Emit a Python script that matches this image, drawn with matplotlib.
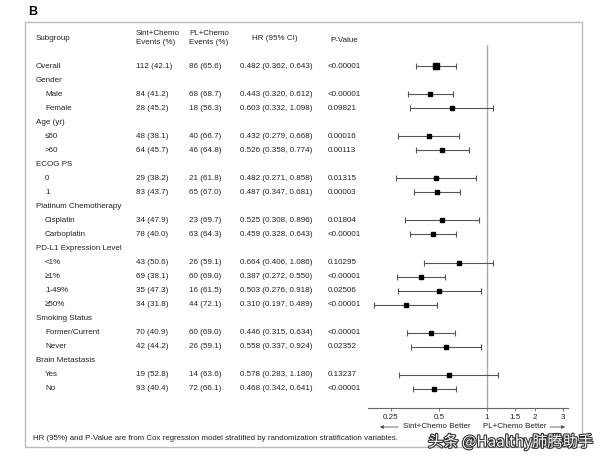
import numpy as np
import matplotlib
matplotlib.use("Agg")
import matplotlib.pyplot as plt
import matplotlib.patheffects as pe
from matplotlib.patches import Rectangle

plt.rcParams['font.family'] = ['Liberation Sans', 'DejaVu Sans']

# Dữ liệu bảng
labels = ["Overall", "Gender", "Male", "Female", "Age (yr)", "≤60", ">60",
          "ECOG PS", "0", "1", "Platinum Chemotherapy", "Cisplatin", "Carboplatin",
          "PD-L1 Expression Level", "<1%", "≥1%", "1-49%", "≥50%",
          "Smoking Status", "Former/Current", "Never",
          "Brain Metastasis", "Yes", "No"]
is_group = [False, True, False, False, True, False, False,
            True, False, False, True, False, False,
            True, False, False, False, False,
            True, False, False,
            True, False, False]
sint_ev = [112, None, 84, 28, None, 48, 64, None, 29, 83, None, 34, 78,
           None, 43, 69, 35, 34, None, 70, 42, None, 19, 93]
sint_pct = [42.1, None, 41.2, 45.2, None, 38.1, 45.7, None, 38.2, 43.7, None, 47.9, 40.0,
            None, 50.6, 38.1, 47.3, 31.8, None, 40.9, 44.2, None, 52.8, 40.4]
pl_ev = [86, None, 68, 18, None, 40, 46, None, 21, 65, None, 23, 63,
         None, 26, 60, 16, 44, None, 60, 26, None, 14, 72]
pl_pct = [65.6, None, 68.7, 56.3, None, 66.7, 64.8, None, 61.8, 67.0, None, 69.7, 64.3,
          None, 59.1, 69.0, 61.5, 72.1, None, 69.0, 59.1, None, 63.6, 66.1]
hr = [0.482, None, 0.443, 0.603, None, 0.432, 0.526, None, 0.482, 0.487, None, 0.525, 0.459,
      None, 0.664, 0.387, 0.503, 0.310, None, 0.446, 0.558, None, 0.578, 0.468]
lo = [0.362, None, 0.320, 0.332, None, 0.279, 0.358, None, 0.271, 0.347, None, 0.308, 0.328,
      None, 0.406, 0.272, 0.276, 0.197, None, 0.315, 0.337, None, 0.283, 0.342]
hi = [0.643, None, 0.612, 1.098, None, 0.668, 0.774, None, 0.858, 0.681, None, 0.896, 0.643,
      None, 1.086, 0.550, 0.918, 0.489, None, 0.634, 0.924, None, 1.180, 0.641]
pval = ["<0.00001", None, "<0.00001", "0.09821", None, "0.00016", "0.00113", None,
        "0.01315", "0.00003", None, "0.01804", "<0.00001", None,
        "0.10295", "<0.00001", "0.02506", "<0.00001", None,
        "<0.00001", "0.02352", None, "0.13237", "<0.00001"]
ticks = [0.25, 0.5, 1, 1.5, 2, 3]
tick_labels = ["0.25", "0.5", "1", "1.5", "2", "3"]

W, H = 612, 463
fig = plt.figure(figsize=(W / 100, H / 100), dpi=100)

# nền: toạ độ pixel
bg = fig.add_axes([0, 0, 1, 1])
bg.set_xlim(0, W)
bg.set_ylim(H, 0)
bg.axis("off")

y0, dy = 66, 14.04
n = len(labels)
fs = 5.8
tc = "#222222"

bg.text(28, 12, "B", fontsize=9, fontweight="bold", va="center", ha="left")
bg.add_patch(Rectangle((25, 22), 557, 425, fill=False, ec="#bbbbbb", lw=1))

# tiêu đề cột
bg.text(36, 38, "Subgroup", fontsize=fs, va="center", color=tc)
bg.text(136, 38, "Sint+Chemo\nEvents (%)", fontsize=fs, va="center", color=tc, linespacing=1.25)
bg.text(189, 38, "PL+Chemo\nEvents (%)", fontsize=fs, va="center", color=tc, linespacing=1.25)
bg.text(275, 38, "HR (95% CI)", fontsize=fs, va="center", ha="center", color=tc)
bg.text(330, 40, "P-Value", fontsize=fs, va="center", color=tc)

for i in range(n):
    y = y0 + dy * i
    x = 36 if (is_group[i] or i == 0) else 45
    bg.text(x, y, labels[i], fontsize=fs, va="center", color=tc)
    if hr[i] is None:
        continue
    bg.text(136, y, f"{sint_ev[i]} ({sint_pct[i]:.1f})", fontsize=fs, va="center", color=tc)
    bg.text(189, y, f"{pl_ev[i]} ({pl_pct[i]:.1f})", fontsize=fs, va="center", color=tc)
    bg.text(240, y, f"{hr[i]:.3f} ({lo[i]:.3f}, {hi[i]:.3f})", fontsize=fs, va="center", color=tc)
    bg.text(328, y, pval[i], fontsize=fs, va="center", color=tc)

bg.text(33, 438, "HR (95%) and P-Value are from Cox regression model stratified by "
        "randomization stratification variables.", fontsize=5.7, va="center", color=tc)

# forest plot
top_px, bot_px = 45, 408
left_px, right_px = 368, 568
ax = fig.add_axes([left_px / W, 1 - bot_px / H, (right_px - left_px) / W, (bot_px - top_px) / H])
ax.set_xscale("log")
ax.set_xlim(0.18, 3.22)
ax.set_ylim((bot_px - y0) / dy, (top_px - y0) / dy)
ax.patch.set_alpha(0)

tot = [(a + b) if a is not None else None for a, b in zip(sint_ev, pl_ev)]
ax.axvline(1, color="#aaaaaa", lw=1, zorder=1)
for i in range(n):
    if hr[i] is None:
        continue
    ms = 1.2 + 2.6 * np.sqrt(tot[i] / tot[0])
    ax.errorbar(hr[i], i, xerr=[[hr[i] - lo[i]], [hi[i] - hr[i]]], fmt="s",
                color="black", ecolor="#555555", elinewidth=0.8, capsize=2,
                capthick=0.8, ms=ms, zorder=3)

for s in ["top", "right", "left"]:
    ax.spines[s].set_visible(False)
ax.spines["bottom"].set_color("#666666")
ax.spines["bottom"].set_linewidth(0.8)
ax.set_yticks([])
ax.set_xticks(ticks)
ax.set_xticklabels(tick_labels)
ax.minorticks_off()
ax.tick_params(axis="x", length=2, width=0.6, color="#666666", labelsize=5.8,
               labelcolor=tc, pad=2.5)

# chú thích dưới trục
bg.annotate("", xy=(377, 427), xytext=(401, 427),
            arrowprops=dict(arrowstyle="-|>", color="#555555", lw=0.6, mutation_scale=5))
bg.text(403, 427, "Sint+Chemo Better", fontsize=5.8, va="center", color=tc)
bg.text(483, 427, "PL+Chemo Better", fontsize=5.8, va="center", color=tc)
bg.annotate("", xy=(568, 427), xytext=(547, 427),
            arrowprops=dict(arrowstyle="-|>", color="#555555", lw=0.6, mutation_scale=5))

# watermark
bg.text(428, 442, "头条 @Haalthy肺腾助手", fontsize=11, va="center", color="white",
        family=["Noto Sans CJK SC", "DejaVu Sans"],
        path_effects=[pe.withStroke(linewidth=1.6, foreground="#333333")])

fig.savefig("out.png", dpi=100)
